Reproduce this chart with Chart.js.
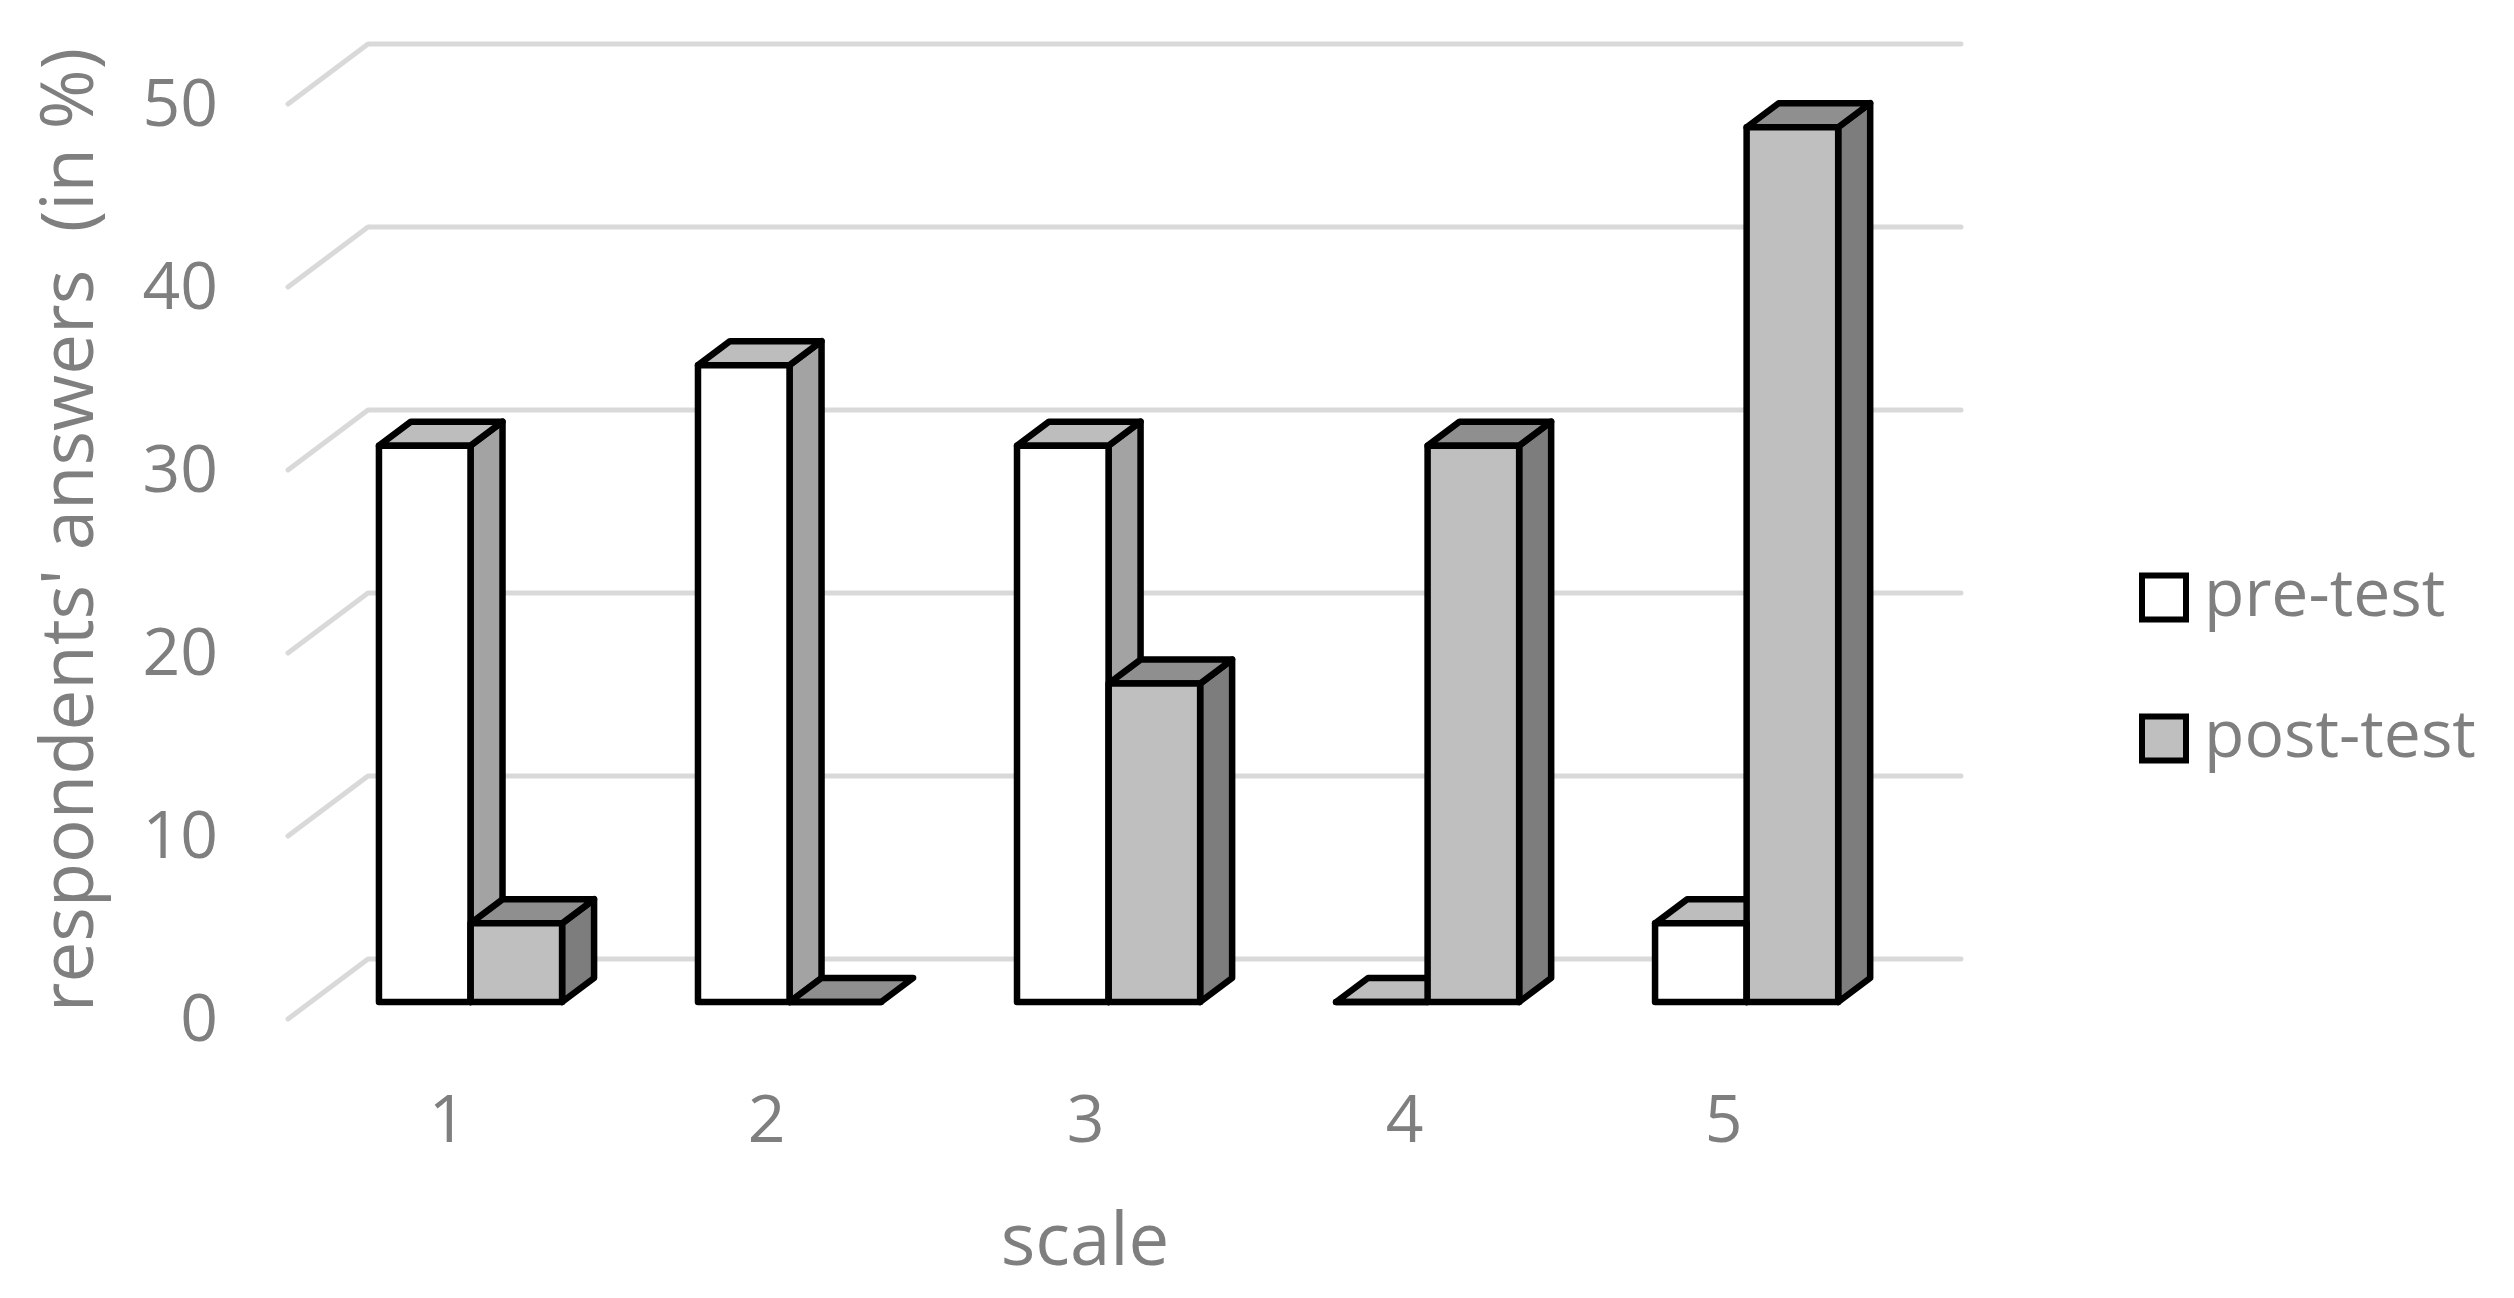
<!DOCTYPE html>
<html>
<head>
<meta charset="utf-8">
<title>pre-test / post-test</title>
<script src="https://cdn.jsdelivr.net/npm/chart.js@4"></script>
<style>
  html, body { margin: 0; padding: 0; background: #ffffff; }
  #wrap { width: 2514px; height: 1298px; }
</style>
</head>
<body>
<div id="wrap"><canvas id="bars3d" width="2514" height="1298"></canvas></div>
<script>
const categories = ["1", "2", "3", "4", "5"];
const preTest = [30.4, 34.8, 30.4, 0, 4.3];
const postTest = [4.3, 0, 17.4, 30.4, 47.8];
const seriesNames = ["pre-test", "post-test"];
const yTicks = [0, 10, 20, 30, 40, 50];
const yTitle = "respondents' answers  (in %)";
const xTitle = "scale";

const FONT = "'Open Sans', 'Noto Sans', sans-serif";
const TEXT = "#7f7f7f";
const GRID = "#d9d9d9";
const LINE = 6.5;

// colours of the faces: front, top, side
const faces = [
  { front: "#ffffff", top: "#bdbdbd", side: "#a3a3a3" },
  { front: "#bfbfbf", top: "#8f8f8f", side: "#7d7d7d" },
];

// offset of a bar's back face from its front face
const BAR_DX = 32, BAR_DY = -24;
// where the walls sit compared with the plane of the bar fronts
const FLOOR_DX = -23, FLOOR_DY = 17;
const WALL_DX = 80, WALL_DY = -60;
const WALL_RIGHT = 1961;

function poly(ctx, pts, fill) {
  ctx.beginPath();
  pts.forEach((p, i) => (i ? ctx.lineTo(p[0], p[1]) : ctx.moveTo(p[0], p[1])));
  ctx.closePath();
  ctx.fillStyle = fill;
  ctx.fill();
  ctx.stroke();
}

const threeD = {
  id: "threeD",
  afterLayout(chart) {
    // the legend sits far off to the right, away from the plot
    const l = chart.legend;
    const w = l.right - l.left, h = l.bottom - l.top;
    l.left = 2157 - l.options.labels.padding;
    l.right = l.left + w;
    l.top = 668 - h / 2;
    l.bottom = l.top + h;
  },
  beforeDatasetsDraw(chart) {
    const ctx = chart.ctx;
    const yScale = chart.scales.y;
    const left = chart.chartArea.left + FLOOR_DX;

    ctx.save();
    ctx.lineJoin = "round";
    ctx.lineCap = "round";
    ctx.lineWidth = 5;
    ctx.strokeStyle = GRID;
    yTicks.forEach(v => {
      const y = yScale.getPixelForValue(v) + FLOOR_DY;
      ctx.beginPath();
      ctx.moveTo(left, y);
      ctx.lineTo(left + WALL_DX, y + WALL_DY);
      ctx.lineTo(WALL_RIGHT, y + WALL_DY);
      ctx.stroke();
    });

    // side and top faces, the fronts are the library's own bars
    ctx.lineWidth = LINE;
    ctx.strokeStyle = "#000000";
    chart.data.datasets.forEach((ds, d) => {
      chart.getDatasetMeta(d).data.forEach(bar => {
        const x0 = bar.x - bar.width / 2, x1 = bar.x + bar.width / 2;
        const yt = bar.y, yb = bar.base;
        if (yb - yt > 1) {
          poly(ctx, [[x1, yt], [x1 + BAR_DX, yt + BAR_DY], [x1 + BAR_DX, yb + BAR_DY], [x1, yb]], faces[d].side);
        }
        poly(ctx, [[x0, yt], [x0 + BAR_DX, yt + BAR_DY], [x1 + BAR_DX, yt + BAR_DY], [x1, yt]], faces[d].top);
      });
    });
    ctx.restore();
  },
  afterDatasetsDraw(chart) {
    const ctx = chart.ctx;
    ctx.save();
    ctx.lineJoin = "round";
    ctx.lineWidth = LINE;
    ctx.strokeStyle = "#000000";
    chart.data.datasets.forEach((ds, d) => {
      chart.getDatasetMeta(d).data.forEach(bar => {
        ctx.strokeRect(bar.x - bar.width / 2, bar.y, bar.width, bar.base - bar.y);
      });
    });
    ctx.restore();
  },
  afterDraw(chart) {
    // axis titles are centred on the front of the floor, not on the bars
    const ctx = chart.ctx;
    ctx.save();
    ctx.fillStyle = TEXT;
    ctx.textAlign = "center";
    ctx.textBaseline = "middle";
    ctx.font = "72.5px " + FONT;
    ctx.fillText(xTitle, 1085, 1244);
    ctx.translate(72, 530);
    ctx.rotate(-Math.PI / 2);
    ctx.fillText(yTitle, 0, 0);
    ctx.restore();
  },
};

new Chart(document.getElementById("bars3d"), {
  type: "bar",
  plugins: [threeD],
  data: {
    labels: categories,
    datasets: [
      { label: seriesNames[0], data: preTest, backgroundColor: faces[0].front, borderWidth: 0 },
      { label: seriesNames[1], data: postTest, backgroundColor: faces[1].front, borderWidth: 0 },
    ],
  },
  options: {
    responsive: false,
    animation: false,
    categoryPercentage: 0.574,
    barPercentage: 1,
    layout: { padding: { top: 87, left: 0, bottom: 0, right: 204 } },
    scales: {
      x: {
        grid: { display: false, drawTicks: false },
        border: { display: false },
        afterFit(scale) {
          scale.height = 296;
          scale.paddingLeft = 0;
          scale.paddingRight = 0;
        },
        ticks: { color: TEXT, font: { family: FONT, size: 66 }, padding: 82, labelOffset: FLOOR_DX, maxRotation: 0 },
      },
      y: {
        min: 0,
        max: 50,
        afterFit(scale) {
          scale.width = 311;
          scale.paddingTop = 0;
          scale.paddingBottom = 0;
        },
        grid: { display: false, drawTicks: false },
        border: { display: false },
        afterBuildTicks(scale) { scale.ticks = yTicks.map(v => ({ value: v })); },
        ticks: { color: TEXT, font: { family: FONT, size: 66 }, padding: 93, labelOffset: 20 },
      },
    },
    plugins: {
      tooltip: { enabled: false },
      legend: {
        position: "right",
        labels: {
          color: TEXT,
          font: { family: FONT, size: 66 },
          usePointStyle: true,
          pointStyle: "rect",
          boxWidth: 14,
          boxHeight: 44,
          padding: 75,
          generateLabels(chart) {
            return chart.data.datasets.map((ds, i) => ({
              text: ds.label,
              fillStyle: faces[i].front,
              strokeStyle: "#000000",
              lineWidth: 6,
              pointStyle: "rect",
              datasetIndex: i,
              fontColor: TEXT,
            }));
          },
        },
      },
    },
  },
});
</script>
</body>
</html>
